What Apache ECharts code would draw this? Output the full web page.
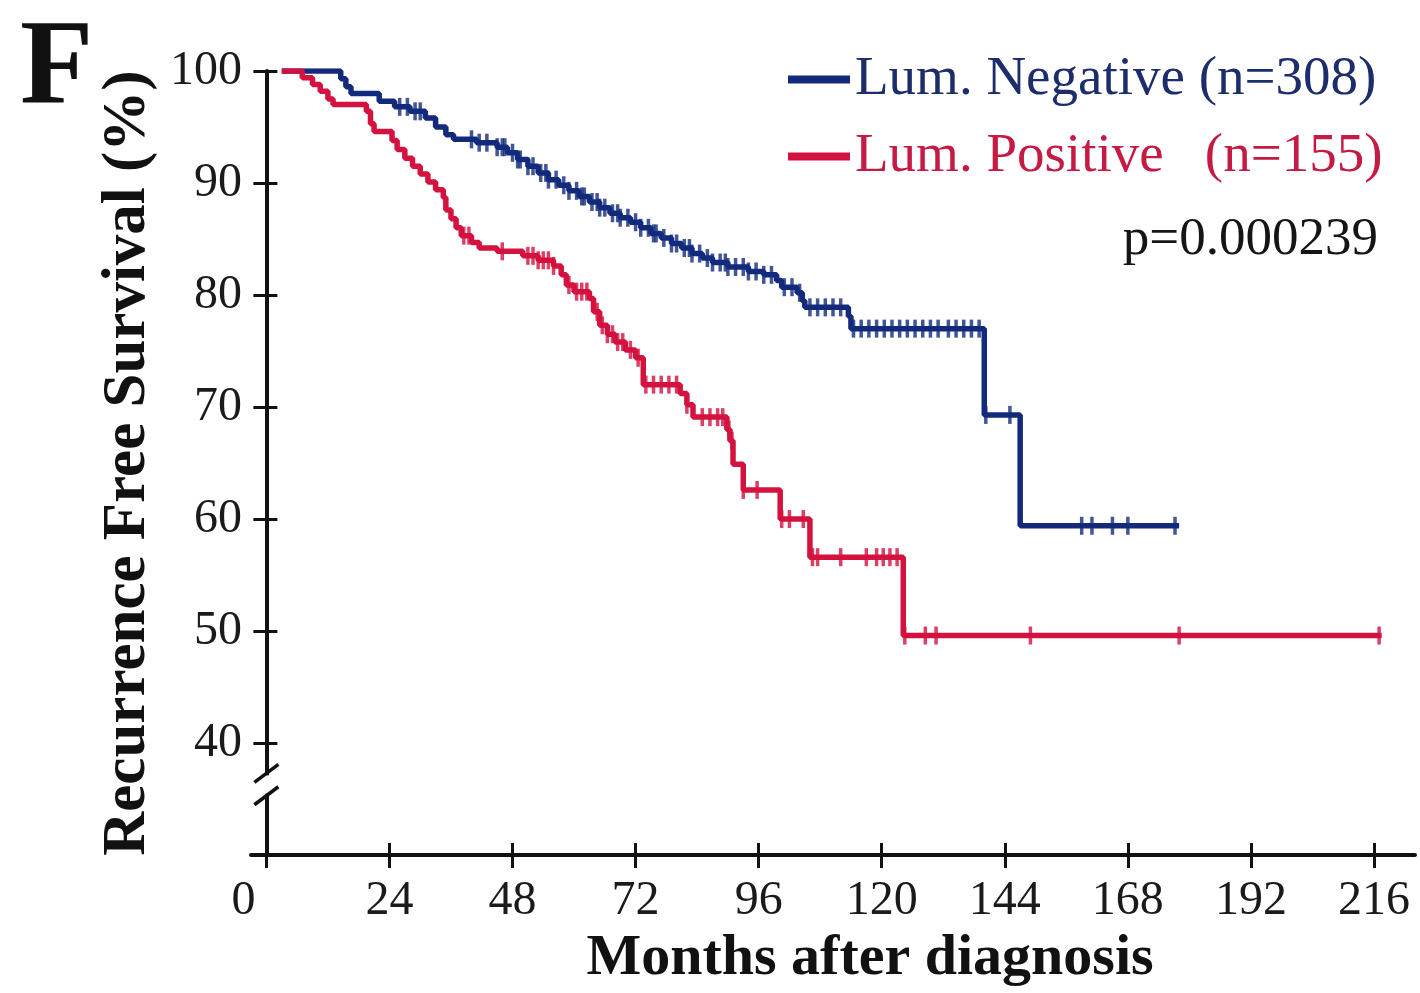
<!DOCTYPE html>
<html><head><meta charset="utf-8">
<script src="https://cdn.jsdelivr.net/npm/echarts@6/dist/echarts.min.js"></script>
<style>html,body{margin:0;padding:0;background:#fff}#c{width:1420px;height:993px}</style>
</head><body><div id="c"></div>
<script>
// ---------- data ----------
const xTicks = [0, 24, 48, 72, 96, 120, 144, 168, 192, 216];
const yTicks = [40, 50, 60, 70, 80, 90, 100];
const negName = 'Lum. Negative (n=308)';
const posName = 'Lum. Positive   (n=155)';
const pValueText = 'p=0.000239';
const panelLetter = 'F';

// Kaplan-Meier steps [month, survival %]
const negCurve = [
  [3,100],[14.5,99.3],[15.5,98.6],[16.5,98.0],[22,97.3],[25,96.8],[28,96.4],[31,95.8],[33,95.0],
  [35,94.3],[36.5,93.9],[41,93.6],[45,93.2],[47,92.7],[49,92.1],[51,91.5],[53,90.9],[55,90.3],
  [57,89.8],[59,89.3],[61,88.8],[63,88.3],[65,87.8],[67,87.3],[69,86.9],[71,86.5],[73,86.0],
  [75,85.5],[77,85.1],[79,84.6],[81,84.2],[83,83.7],[85,83.3],[87,82.9],[90,82.5],[94,82.1],
  [97,81.8],[99.5,81.3],[100.5,80.7],[103.5,80.2],[104.5,79.5],[105,78.9],[113.5,78.1],[114,77.0],
  [140,69.3],[147,59.4],[178,59.4]
];
const posCurve = [
  [3,100],[7,99.4],[9,98.8],[10.5,98.2],[12,97.5],[13,97.0],[19.5,96.4],[20.3,95.3],[21,94.6],
  [24.5,93.8],[25.5,93.0],[27,92.2],[28.5,91.5],[30,90.8],[31.5,90.1],[33,89.4],[34.5,88.7],
  [35,87.6],[36,86.8],[37,86.0],[38,85.3],[40,84.7],[41.5,84.2],[45,83.9],[50,83.5],[53,83.1],
  [56,82.6],[57.5,81.8],[58.5,80.9],[60,80.3],[63,79.7],[63.8,78.5],[65,77.3],[66.5,76.5],
  [68,75.8],[70,75.1],[72,74.4],[73.5,72.0],[80.7,71.2],[82,70.2],[83.2,69.1],[89.8,68.0],
  [90.4,67.0],[91,64.9],[93,62.6],[100.2,60.0],[106,56.6],[124.2,49.6],[217.5,49.6]
];
// censoring times (months)
const negCensor = [
  26,27.5,29,30,40,41.5,43,45,46,46.5,48,49,49.5,51,52,53.5,54.5,55,56.5,58,59,60.5,61.5,62,63.5,
  64.5,65,66,67.5,68.5,69,70.5,72,73,74.5,75.5,76,77.5,79,80,81.5,82.5,83,84.5,86,87,88.5,89.5,
  90,91.5,93,94,95.5,97,98.5,101,102.5,104,106,107.5,109,110.5,112,114.5,116,117.5,119,120.5,
  122,123.5,125,126.5,128,129.5,131,133,134.5,136,137.5,139,140.3,145,159,161,165,168,177.2
];
const posCensor = [
  38.5,39.5,46,51,52,53,54,55,56,59,60.5,61.5,62.5,64.5,65.5,66.5,67.5,68.5,69.5,71,72.5,74,
  75.5,77,78.5,80,82,85,86.5,88,89,90.2,90.8,93,95.7,100.5,102,104.7,106.5,107.5,112,117,119,
  120.3,121.6,123,124.5,128.5,130.6,149,178,217
];

// ---------- chart ----------
const NEG = '#132a7c', POS = '#d3123f';
const FONT = '"Liberation Serif", "Times New Roman", serif';

function survAt(curve, t) {
  let v = curve[0][1];
  for (const p of curve) { if (p[0] <= t) v = p[1]; else break; }
  return v;
}
const negMarks = negCensor.map(t => [t, survAt(negCurve, t)]);
const posMarks = posCensor.map(t => [t, survAt(posCurve, t)]);

const chart = echarts.init(document.getElementById('c'), null, {renderer: 'canvas'});

const xCommon = {type: 'value', min: -3, max: 224, position: 'bottom', splitLine: {show: false}};
const yCommon = {type: 'value', min: 30, max: 100, position: 'left', splitLine: {show: false}};

chart.setOption({
  backgroundColor: '#fff',
  animation: false,
  title: [
    {text: panelLetter, left: 20, top: 12, padding: 0,
     textStyle: {fontFamily: FONT, fontSize: 120, fontWeight: 'bold', color: '#111'}},
    {text: pValueText, right: 42, top: 214, padding: 0,
     textStyle: {fontFamily: FONT, fontSize: 53, fontWeight: 'normal', color: '#151515'}}
  ],
  legend: {
    orient: 'vertical', left: 788, top: 52, padding: 0,
    itemWidth: 62, itemHeight: 8, itemGap: 22,
    selectedMode: false,
    textStyle: {fontFamily: FONT, fontSize: 55},
    data: [
      {name: negName, icon: 'rect', textStyle: {color: '#1d2c6b'}},
      {name: posName, icon: 'rect', textStyle: {color: '#c41a44'}}
    ]
  },
  grid: {left: 251, right: 5, top: 71, bottom: 133, containLabel: false},
  xAxis: [
    Object.assign({}, xCommon, {
      name: 'Months after diagnosis', nameLocation: 'middle', nameGap: 74,
      nameTextStyle: {fontFamily: FONT, fontSize: 58, fontWeight: 'bold', color: '#111', padding: [0, 0, 0, 74]},
      axisLine: {show: true, onZero: false, lineStyle: {color: '#111', width: 4}},
      axisTick: {show: true, inside: false, length: 13, lineStyle: {color: '#111', width: 3}, customValues: xTicks},
      axisLabel: {show: true, margin: 22, fontFamily: FONT, fontSize: 48, color: '#1a1a1a', customValues: xTicks,
        formatter: v => v === 0 ? '{z|0}' : String(v),
        rich: {z: {fontFamily: FONT, fontSize: 48, color: '#1a1a1a', padding: [0, 46, 0, 0]}}}
    }),
    Object.assign({}, xCommon, {
      axisLine: {show: false, onZero: false},
      axisTick: {show: true, inside: true, length: 12, lineStyle: {color: '#111', width: 3}, customValues: xTicks},
      axisLabel: {show: false}
    })
  ],
  yAxis: [
    Object.assign({}, yCommon, {
      name: 'Recurrence Free Survival (%)', nameLocation: 'middle', nameGap: 66, nameRotate: 90,
      nameTextStyle: {fontFamily: FONT, fontSize: 61, fontWeight: 'bold', color: '#111'},
      axisLine: {show: true, onZero: true, lineStyle: {color: '#111', width: 4}},
      axisTick: {show: true, inside: false, length: 13, lineStyle: {color: '#111', width: 3}, customValues: yTicks},
      axisLabel: {show: true, margin: 9, fontFamily: FONT, fontSize: 48, color: '#1a1a1a', customValues: yTicks}
    }),
    Object.assign({}, yCommon, {
      axisLine: {show: false, onZero: true},
      axisTick: {show: true, inside: true, length: 11, lineStyle: {color: '#111', width: 3}, customValues: yTicks},
      axisLabel: {show: false}
    })
  ],
  series: [
    {name: negName, type: 'line', step: 'end', data: negCurve, showSymbol: false, symbol: 'none',
     xAxisIndex: 0, yAxisIndex: 0, color: NEG,
     lineStyle: {color: NEG, width: 5.5}, itemStyle: {color: NEG}, z: 3},
    {name: posName, type: 'line', step: 'end', data: posCurve, showSymbol: false, symbol: 'none',
     xAxisIndex: 0, yAxisIndex: 0, color: POS,
     lineStyle: {color: POS, width: 5.5}, itemStyle: {color: POS}, z: 3},
    {name: 'neg-censored', type: 'scatter', data: negMarks, symbol: 'rect', symbolSize: [3.5, 18],
     xAxisIndex: 0, yAxisIndex: 0, itemStyle: {color: NEG}, z: 4},
    {name: 'pos-censored', type: 'scatter', data: posMarks, symbol: 'rect', symbolSize: [3.5, 18],
     xAxisIndex: 0, yAxisIndex: 0, itemStyle: {color: POS}, z: 4}
  ]
});

// axis break marks on the y axis (positions from the axes' own scale)
const ref = {xAxisIndex: 0, yAxisIndex: 0};
const b1 = chart.convertToPixel(ref, [0, 37.3]);
const b2 = chart.convertToPixel(ref, [0, 35.3]);
chart.setOption({
  graphic: [
    {type: 'rect', shape: {x: b1[0] - 6, y: b1[1] + 2, width: 12, height: b2[1] - b1[1] - 4},
     style: {fill: '#fff'}, z: 100},
    {type: 'line', shape: {x1: b1[0] - 12, y1: b1[1] + 9, x2: b1[0] + 12, y2: b1[1] - 9},
     style: {stroke: '#111', lineWidth: 3.5}, z: 101},
    {type: 'line', shape: {x1: b2[0] - 12, y1: b2[1] + 9, x2: b2[0] + 12, y2: b2[1] - 9},
     style: {stroke: '#111', lineWidth: 3.5}, z: 101}
  ]
});
</script>
</body></html>
